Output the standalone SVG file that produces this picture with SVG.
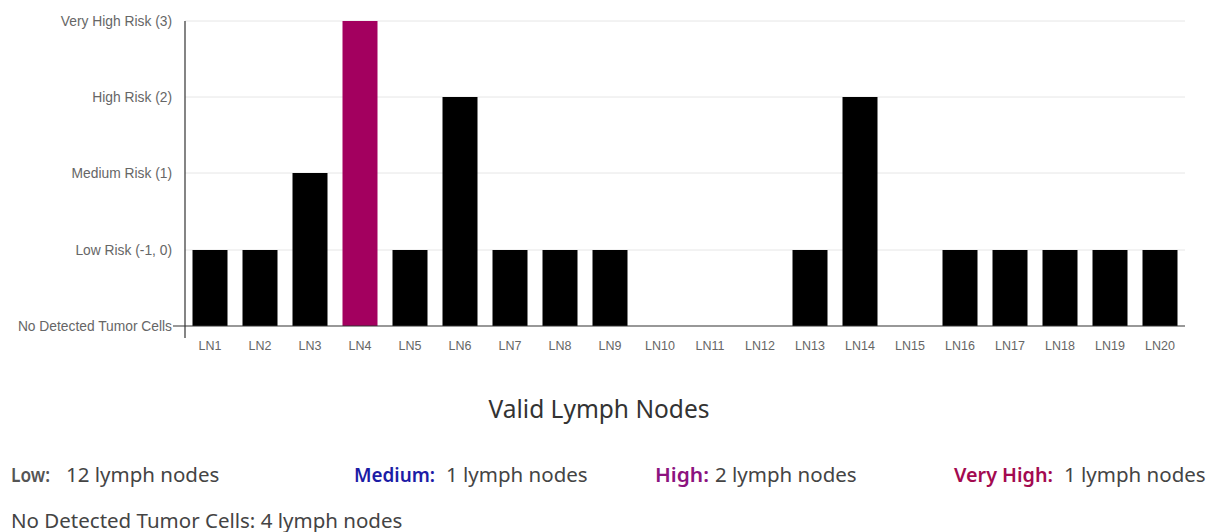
<svg xmlns="http://www.w3.org/2000/svg" width="1207" height="532" viewBox="0 0 1207 532">
<style>
.grid{stroke:#e6e6e6;stroke-width:1}
.axis{stroke:#333;stroke-width:1.2;fill:none}
.bar{fill:#000}
.vh{fill:#a3005f}
.yl{font-family:"Liberation Sans",Arial,sans-serif;font-size:13.8px;fill:#666;text-anchor:end;dominant-baseline:central}
.xl{font-family:"Liberation Sans",Arial,sans-serif;font-size:12.5px;fill:#666;text-anchor:middle}
.title{font-family:"Noto Sans","Open Sans",sans-serif;font-size:24.5px;fill:#333;text-anchor:middle}
.lg{font-family:"Noto Sans","Open Sans",sans-serif;font-size:20.5px;fill:#444}
.lb{font-family:"Noto Sans","Open Sans",sans-serif;font-size:20.5px;font-weight:600}
</style>
<rect width="1207" height="532" fill="#fff"/>
<g id="grid">
<line class="grid" x1="185" y1="21" x2="1185" y2="21"/>
<line class="grid" x1="185" y1="97" x2="1185" y2="97"/>
<line class="grid" x1="185" y1="173" x2="1185" y2="173"/>
<line class="grid" x1="185" y1="250" x2="1185" y2="250"/>
</g>
<g id="bars">
<rect class="bar" x="192.5" y="250" width="35" height="76"/>
<rect class="bar" x="242.5" y="250" width="35" height="76"/>
<rect class="bar" x="292.5" y="173" width="35" height="153"/>
<rect class="vh" x="342.5" y="21" width="35" height="305"/>
<rect class="bar" x="392.5" y="250" width="35" height="76"/>
<rect class="bar" x="442.5" y="97" width="35" height="229"/>
<rect class="bar" x="492.5" y="250" width="35" height="76"/>
<rect class="bar" x="542.5" y="250" width="35" height="76"/>
<rect class="bar" x="592.5" y="250" width="35" height="76"/>
<rect class="bar" x="792.5" y="250" width="35" height="76"/>
<rect class="bar" x="842.5" y="97" width="35" height="229"/>
<rect class="bar" x="942.5" y="250" width="35" height="76"/>
<rect class="bar" x="992.5" y="250" width="35" height="76"/>
<rect class="bar" x="1042.5" y="250" width="35" height="76"/>
<rect class="bar" x="1092.5" y="250" width="35" height="76"/>
<rect class="bar" x="1142.5" y="250" width="35" height="76"/>
</g>
<g id="axes">
<path class="axis" d="M185 21 V338"/>
<path class="axis" d="M173 326 H1185"/>
</g>
<g id="ylabels">
<text class="yl" x="172" y="21">Very High Risk (3)</text>
<text class="yl" x="172" y="97">High Risk (2)</text>
<text class="yl" x="172" y="173">Medium Risk (1)</text>
<text class="yl" x="172" y="250">Low Risk (-1, 0)</text>
<text class="yl" x="172" y="326">No Detected Tumor Cells</text>
</g>
<g id="xlabels">
<text class="xl" x="210" y="350">LN1</text>
<text class="xl" x="260" y="350">LN2</text>
<text class="xl" x="310" y="350">LN3</text>
<text class="xl" x="360" y="350">LN4</text>
<text class="xl" x="410" y="350">LN5</text>
<text class="xl" x="460" y="350">LN6</text>
<text class="xl" x="510" y="350">LN7</text>
<text class="xl" x="560" y="350">LN8</text>
<text class="xl" x="610" y="350">LN9</text>
<text class="xl" x="660" y="350">LN10</text>
<text class="xl" x="710" y="350">LN11</text>
<text class="xl" x="760" y="350">LN12</text>
<text class="xl" x="810" y="350">LN13</text>
<text class="xl" x="860" y="350">LN14</text>
<text class="xl" x="910" y="350">LN15</text>
<text class="xl" x="960" y="350">LN16</text>
<text class="xl" x="1010" y="350">LN17</text>
<text class="xl" x="1060" y="350">LN18</text>
<text class="xl" x="1110" y="350">LN19</text>
<text class="xl" x="1160" y="350">LN20</text>
</g>
<g id="title">
<text class="title" x="599" y="418">Valid Lymph Nodes</text>
</g>
<g id="legend">
<text class="lb" x="11" y="482" fill="#555" textLength="39" lengthAdjust="spacingAndGlyphs">Low:</text>
<text class="lg" x="66" y="482">12 lymph nodes</text>
<text class="lb" x="354" y="482" fill="#1c1ca6" textLength="81" lengthAdjust="spacingAndGlyphs">Medium:</text>
<text class="lg" x="446" y="482">1 lymph nodes</text>
<text class="lb" x="655" y="482" fill="#8c137f" textLength="54" lengthAdjust="spacingAndGlyphs">High:</text>
<text class="lg" x="715" y="482">2 lymph nodes</text>
<text class="lb" x="954" y="482" fill="#a30a50" textLength="99" lengthAdjust="spacingAndGlyphs">Very High:</text>
<text class="lg" x="1064" y="482">1 lymph nodes</text>
<text class="lg" x="11" y="528">No Detected Tumor Cells: 4 lymph nodes</text>
</g>
</svg>
